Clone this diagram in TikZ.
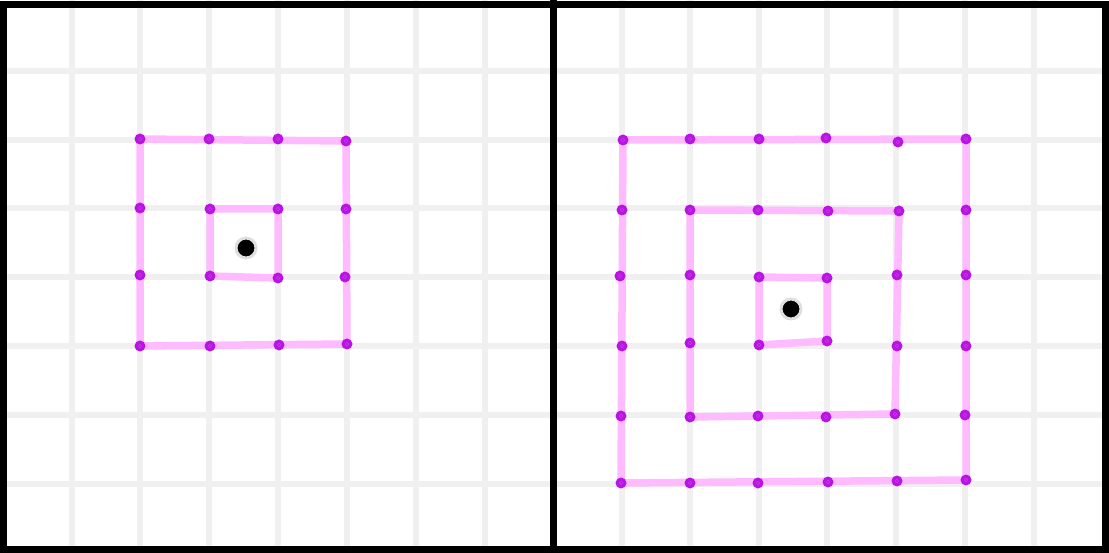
\documentclass[tikz,border=0pt]{standalone}
\usepackage{tikz}
\definecolor{gridgray}{RGB}{240,240,240}
\definecolor{ringpink}{RGB}{255,187,255}
\definecolor{markpurple}{RGB}{185,20,225}

\begin{document}
\begin{tikzpicture}[x=1pt,y=-1pt,
  gridline/.style={gridgray,line width=6pt},
  ring/.style={ringpink,line width=7.5pt},
  mark pt/.style={circle,fill=markpurple,inner sep=0pt,minimum size=11pt,
    path picture={\draw[markpurple!82!white,line width=0.5pt]
      (path picture bounding box.center) circle (1.8pt);}},
  centre/.style={circle,fill=black,draw=gray!25,line width=3pt,inner sep=0pt,minimum size=20pt}]
  \useasboundingbox (0,0) rectangle (1109,553);

  % background grid of both panels
  \foreach \y in {71,140,208,277,346,415,484}
    \draw[gridline] (0,\y) -- (1109,\y);
  \foreach \x in {72,140,209,278,347,416,485}
    \draw[gridline] (\x,0) -- (\x,553);
  \foreach \x in {622,690,759,827,896,965,1034}
    \draw[gridline] (\x,0) -- (\x,553);

  % left panel: vertices of the two squares
  \foreach \n/\x/\y in {1/140/139,2/209/139,3/278/139,4/346/141,5/346/209,6/345/277,
      7/347/344,8/279/345,9/210/346,10/140/346,11/140/275,12/140/208}
    \coordinate (lo\n) at (\x,\y);
  \foreach \n/\x/\y in {1/210/209,2/278/209,3/278/278,4/210/276}
    \coordinate (li\n) at (\x,\y);

  % right panel: vertices of the three squares
  \foreach \n/\x/\y in {1/759/277,2/827/278,3/827/341,4/759/345}
    \coordinate (ri\n) at (\x,\y);
  \foreach \n/\x/\y in {1/690/210,2/758/210,3/828/211,4/899/211,5/897/275,6/897/346,
      7/895/414,8/826/417,9/758/416,10/690/417,11/690/343,12/690/275}
    \coordinate (rm\n) at (\x,\y);
  \foreach \n/\x/\y in {1/623/140,2/690/139,3/759/139,4/826/138,5/898/142,6/966/139,
      7/966/210,8/966/275,9/966/346,10/965/415,11/966/480,12/897/481,13/828/482,
      14/758/483,15/690/483,16/621/483,17/621/416,18/622/346,19/620/276,20/622/210}
    \coordinate (ro\n) at (\x,\y);

  % pink squares, corner to corner
  \draw[ring] (li1) -- (li2) -- (li3) -- (li4) -- cycle;
  \draw[ring] (lo1) -- (lo4) -- (lo7) -- (lo10) -- cycle;
  \draw[ring] (ri1) -- (ri2) -- (ri3) -- (ri4) -- cycle;
  \draw[ring] (rm1) -- (rm4) -- (rm7) -- (rm10) -- cycle;
  \draw[ring] (ro1) -- (ro6) -- (ro11) -- (ro16) -- cycle;

  % purple markers
  \foreach \i in {1,...,4} {
    \node[mark pt] (m-li\i) at (li\i) {};
    \node[mark pt] (m-ri\i) at (ri\i) {};
  }
  \foreach \i in {1,...,12} {
    \node[mark pt] (m-lo\i) at (lo\i) {};
    \node[mark pt] (m-rm\i) at (rm\i) {};
  }
  \foreach \i in {1,...,20}
    \node[mark pt] (m-ro\i) at (ro\i) {};

  % centres
  \node[centre] (cl) at (246,248) {};
  \node[centre] (cr) at (791,309) {};

  % frame and divider
  \draw[line width=7pt] (3.5,4.5) rectangle (1105,549);
  \draw[line width=7pt] (553.3,0) -- (553.3,553);
\end{tikzpicture}
\end{document}
